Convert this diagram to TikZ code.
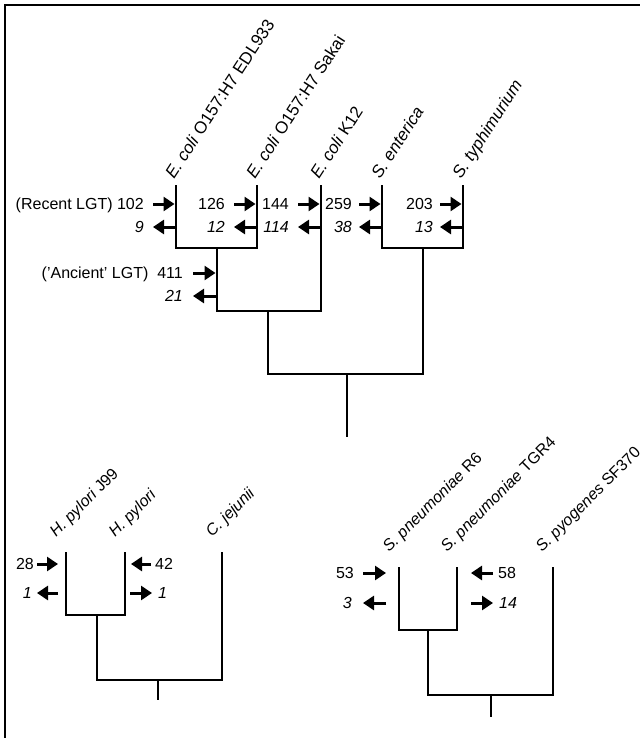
\documentclass[tikz,border=0pt]{standalone}
\usepackage{fontspec}
\setmainfont{Liberation Sans}
\usepackage{tikz}
\usetikzlibrary{arrows.meta,positioning}

\begin{document}
\begin{tikzpicture}[x=1pt, y=-1pt,
    branch/.style={line width=2.8pt},
    lgt/.style={line width=3pt, -{Triangle[length=11pt,width=14pt]}},
    num/.style={inner sep=0pt, text height=11.5pt, text depth=0pt, font=\fontsize{16}{19}\selectfont},
    taxon/.style={inner sep=0pt, anchor=base west, font=\fontsize{16}{19}\selectfont}]
    \useasboundingbox (0,0) rectangle (640,738);
    \draw[line width=1.5pt] (5,738) -- (5,5) -- (640,5);

    % enterobacteria
    \coordinate (edl) at (176,185);
    \coordinate (sakai) at (257,185);
    \coordinate (k12) at (321,185);
    \coordinate (sent) at (382,185);
    \coordinate (styph) at (463,185);
    \coordinate (ecA) at (217,248);
    \coordinate (salm) at (423,248);
    \coordinate (ecB) at (268,311);
    \coordinate (entero) at (347,374);
    \coordinate (rootA) at (347,437);
    \draw[branch] (edl) |- (sakai |- ecA) -- (sakai);
    \draw[branch] (sent) |- (styph |- salm) -- (styph);
    \draw[branch] (ecA) |- (k12 |- ecB) -- (k12);
    \draw[branch] (ecB) |- (salm |- entero) -- (salm);
    \draw[branch] (entero) -- (rootA);

    \node[taxon, rotate=57, font=\fontsize{17}{20}\selectfont] (tEDL) at ([xshift=-2pt,yshift=5pt]edl) {\textit{E. coli} O157:H7 EDL933};
    \node[taxon, rotate=57, font=\fontsize{17}{20}\selectfont] (tSakai) at ([xshift=-2pt,yshift=5pt]sakai) {\textit{E. coli} O157:H7 Sakai};
    \node[taxon, rotate=57, font=\fontsize{17}{20}\selectfont] (tK12) at ([xshift=-2pt,yshift=5pt]k12) {\textit{E. coli} K12};
    \node[taxon, rotate=57, font=\fontsize{17}{20}\selectfont] (tSent) at ([xshift=-2pt,yshift=5pt]sent) {\textit{S. enterica}};
    \node[taxon, rotate=57, font=\fontsize{17}{20}\selectfont] (tStyph) at ([xshift=-2pt,yshift=5pt]styph) {\textit{S. typhimurium}};

    \coordinate (rowA) at (0,204);
    \coordinate (rowB) at (0,227);
    \coordinate (rowC) at (0,273);
    \coordinate (rowD) at (0,296);

    \node[num, anchor=east] (n102) at ([xshift=-32pt]edl |- rowA) {(Recent LGT) 102};
    \node[num, anchor=east] (n9) at ([xshift=-32pt]edl |- rowB) {\textit{9}};
    \draw[lgt] ([xshift=-23pt]edl |- rowA) -- ([xshift=-1.5pt]edl |- rowA);
    \draw[lgt] ([xshift=-1.5pt]edl |- rowB) -- ([xshift=-23pt]edl |- rowB);

    \node[num, anchor=east] (n126) at ([xshift=-32pt]sakai |- rowA) {126};
    \node[num, anchor=east] (n12) at ([xshift=-32pt]sakai |- rowB) {\textit{12}};
    \draw[lgt] ([xshift=-23pt]sakai |- rowA) -- ([xshift=-1.5pt]sakai |- rowA);
    \draw[lgt] ([xshift=-1.5pt]sakai |- rowB) -- ([xshift=-23pt]sakai |- rowB);

    \node[num, anchor=east] (n144) at ([xshift=-32pt]k12 |- rowA) {144};
    \node[num, anchor=east] (n114) at ([xshift=-32pt]k12 |- rowB) {\textit{114}};
    \draw[lgt] ([xshift=-23pt]k12 |- rowA) -- ([xshift=-1.5pt]k12 |- rowA);
    \draw[lgt] ([xshift=-1.5pt]k12 |- rowB) -- ([xshift=-23pt]k12 |- rowB);

    \node[num, anchor=east] (n259) at ([xshift=-30pt]sent |- rowA) {259};
    \node[num, anchor=east] (n38) at ([xshift=-30pt]sent |- rowB) {\textit{38}};
    \draw[lgt] ([xshift=-23pt]sent |- rowA) -- ([xshift=-1.5pt]sent |- rowA);
    \draw[lgt] ([xshift=-1.5pt]sent |- rowB) -- ([xshift=-23pt]sent |- rowB);

    \node[num, anchor=east] (n203) at ([xshift=-30pt]styph |- rowA) {203};
    \node[num, anchor=east] (n13) at ([xshift=-30pt]styph |- rowB) {\textit{13}};
    \draw[lgt] ([xshift=-23pt]styph |- rowA) -- ([xshift=-1.5pt]styph |- rowA);
    \draw[lgt] ([xshift=-1.5pt]styph |- rowB) -- ([xshift=-23pt]styph |- rowB);

    \node[num, anchor=east] (n411) at ([xshift=-34pt]ecA |- rowC) {('Ancient' LGT)\ \ 411};
    \node[num, anchor=east] (n21) at ([xshift=-34pt]ecA |- rowD) {\textit{21}};
    \draw[lgt] ([xshift=-24pt]ecA |- rowC) -- ([xshift=-1.5pt]ecA |- rowC);
    \draw[lgt] ([xshift=-1.5pt]ecA |- rowD) -- ([xshift=-24pt]ecA |- rowD);

    % epsilon-proteobacteria
    \coordinate (hpj) at (66,552);
    \coordinate (hp) at (125,552);
    \coordinate (cj) at (222,552);
    \coordinate (hpy) at (97,615);
    \coordinate (campy) at (158,680);
    \coordinate (rootB) at (158,700);
    \draw[branch] (hpj) |- (hp |- hpy) -- (hp);
    \draw[branch] (hpy) |- (cj |- campy) -- (cj);
    \draw[branch] (campy) -- (rootB);

    \node[taxon, rotate=45] (tHpj) at ([xshift=-10pt,yshift=14pt]hpj) {\textit{H. pylori} J99};
    \node[taxon, rotate=45] (tHp) at ([xshift=-10pt,yshift=14pt]hp) {\textit{H. pylori}};
    \node[taxon, rotate=45] (tCj) at ([xshift=-10pt,yshift=14pt]cj) {\textit{C. jejunii}};

    \coordinate (rowE) at (0,564);
    \coordinate (rowF) at (0,593);
    \node[num, anchor=east] (n28) at ([xshift=-32pt]hpj |- rowE) {28};
    \node[num, anchor=east] (n1a) at ([xshift=-34pt]hpj |- rowF) {\textit{1}};
    \draw[lgt] ([xshift=-29pt]hpj |- rowE) -- ([xshift=-8pt]hpj |- rowE);
    \draw[lgt] ([xshift=-8pt]hpj |- rowF) -- ([xshift=-29pt]hpj |- rowF);
    \node[num, anchor=west] (n42) at ([xshift=30pt]hp |- rowE) {42};
    \node[num, anchor=west] (n1b) at ([xshift=33pt]hp |- rowF) {\textit{1}};
    \draw[lgt] ([xshift=26pt]hp |- rowE) -- ([xshift=6pt]hp |- rowE);
    \draw[lgt] ([xshift=5pt]hp |- rowF) -- ([xshift=27pt]hp |- rowF);

    % streptococci
    \coordinate (spr6) at (399,567);
    \coordinate (sptgr) at (457,567);
    \coordinate (spyo) at (553,567);
    \coordinate (pneu) at (428,630);
    \coordinate (strep) at (491,695);
    \coordinate (rootC) at (491,717);
    \draw[branch] (spr6) |- (sptgr |- pneu) -- (sptgr);
    \draw[branch] (pneu) |- (spyo |- strep) -- (spyo);
    \draw[branch] (strep) -- (rootC);

    \node[taxon, rotate=45] (tR6) at ([xshift=-10pt,yshift=14pt]spr6) {\textit{S. pneumoniae} R6};
    \node[taxon, rotate=45] (tTGR4) at ([xshift=-10pt,yshift=14pt]sptgr) {\textit{S. pneumoniae} TGR4};
    \node[taxon, rotate=45] (tSF370) at ([xshift=-11pt,yshift=14pt]spyo) {\textit{S. pyogenes} SF370};

    \coordinate (rowG) at (0,573);
    \coordinate (rowH) at (0,603);
    \node[num, anchor=east] (n53) at ([xshift=-45pt]spr6 |- rowG) {53};
    \node[num, anchor=east] (n3) at ([xshift=-47pt]spr6 |- rowH) {\textit{3}};
    \draw[lgt] ([xshift=-36pt]spr6 |- rowG) -- ([xshift=-13pt]spr6 |- rowG);
    \draw[lgt] ([xshift=-13pt]spr6 |- rowH) -- ([xshift=-36pt]spr6 |- rowH);
    \node[num, anchor=west] (n58) at ([xshift=41pt]sptgr |- rowG) {58};
    \node[num, anchor=west] (n14) at ([xshift=42pt]sptgr |- rowH) {\textit{14}};
    \draw[lgt] ([xshift=36pt]sptgr |- rowG) -- ([xshift=14pt]sptgr |- rowG);
    \draw[lgt] ([xshift=14pt]sptgr |- rowH) -- ([xshift=36pt]sptgr |- rowH);
\end{tikzpicture}
\end{document}
